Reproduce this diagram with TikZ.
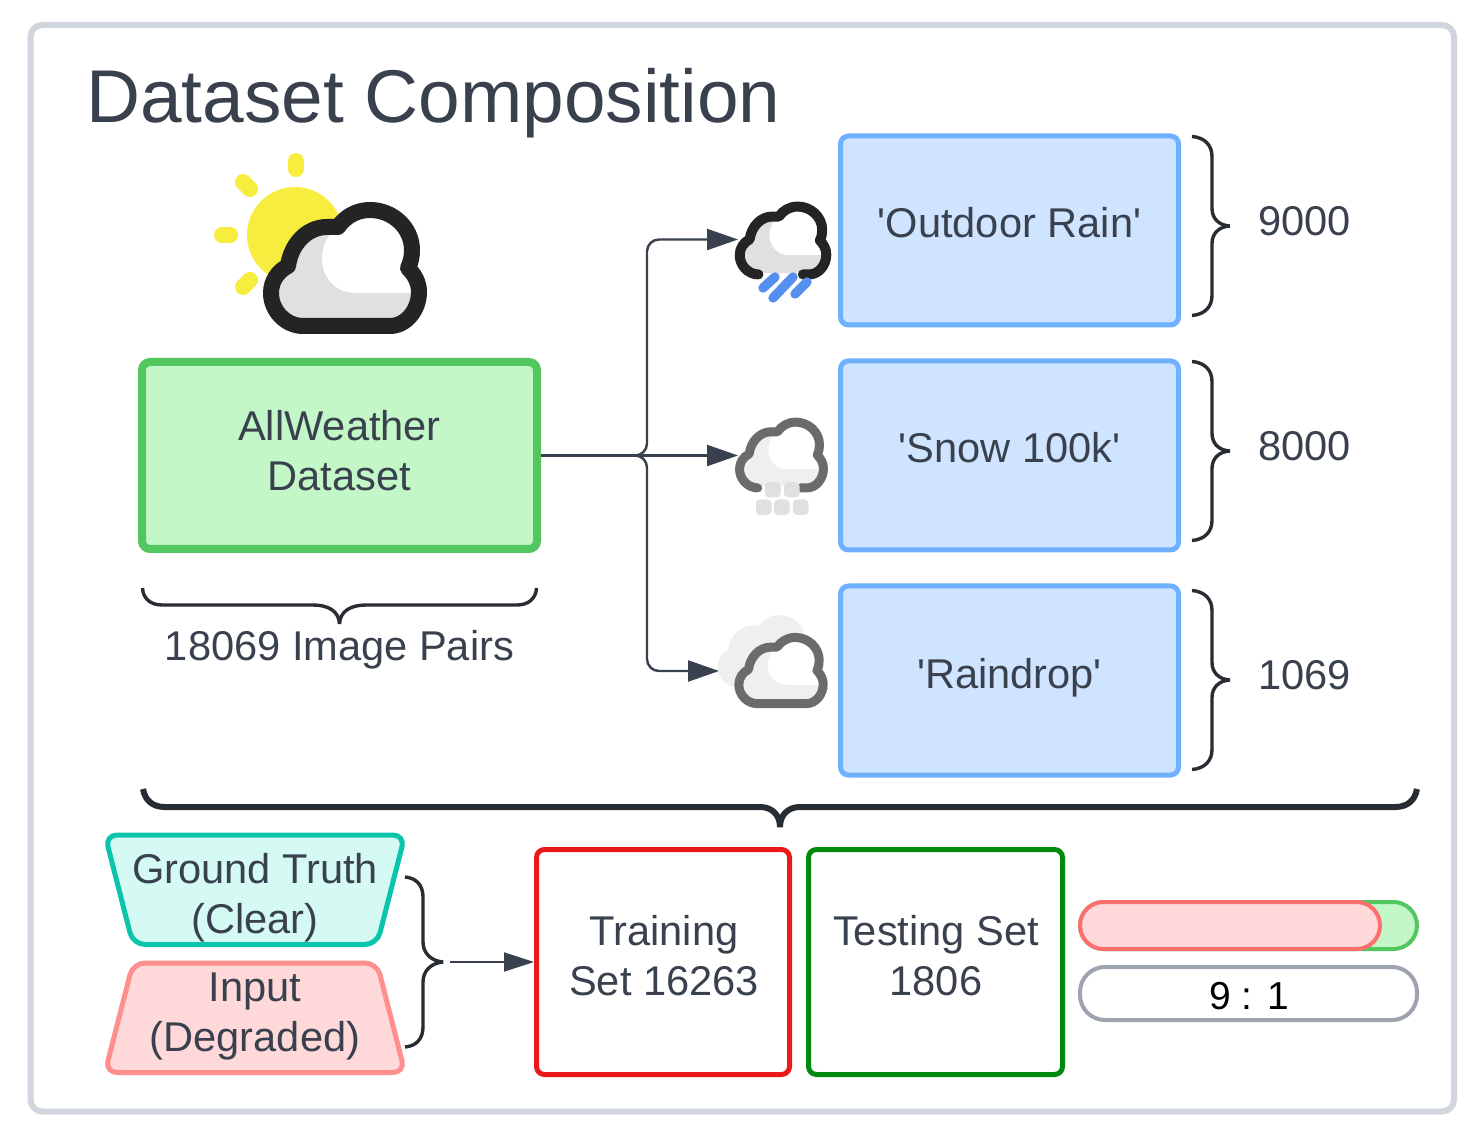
\documentclass[tikz,border=0pt]{standalone}
\usepackage{fontspec}
\setmainfont{Liberation Sans}[Ligatures=TeXOff]
\usetikzlibrary{arrows.meta}
\definecolor{ink}{HTML}{3A414E}
\definecolor{brk}{HTML}{282C33}
\definecolor{dark}{HTML}{242424}
\definecolor{midg}{HTML}{6B6B6B}
\definecolor{cgray}{HTML}{E0E0E0}
\definecolor{clight}{HTML}{EFEFEF}
\definecolor{sun}{HTML}{F7ED3E}
\definecolor{frame}{HTML}{D1D5DD}
\definecolor{gfill}{HTML}{C3F7C8}
\definecolor{gline}{HTML}{53C75F}
\definecolor{bfill}{HTML}{CFE4FF}
\definecolor{bline}{HTML}{6DB1FF}
\definecolor{tfill}{HTML}{D5F9F3}
\definecolor{tline}{HTML}{0AC5AC}
\definecolor{rfill}{HTML}{FFD9D9}
\definecolor{rline}{HTML}{FF8F8F}
\definecolor{rline2}{HTML}{FF6E6E}
\definecolor{trainc}{HTML}{EA1A1A}
\definecolor{testc}{HTML}{008A0E}
\definecolor{pillg}{HTML}{9DA3AF}
\definecolor{rainc}{HTML}{5590F0}
\def\cloudopen{(379,326) -- (390,326) .. controls (406,326) and (419,310) .. (419,292) .. controls (419,282) and (414,274) .. (408,268) .. controls (411,262) and (412,256) .. (412,250) .. controls (412,228) and (393,210) .. (370,210) .. controls (356,210) and (345,217) .. (338,227) .. controls (334,227) and (330,227) .. (327,227) .. controls (307,227) and (291,244) .. (288,266) .. controls (278,271) and (271,281) .. (271,293) .. controls (271,311) and (286,326) .. (303,326)}
\def\cloudhi{(340,226) .. controls (328,232) and (321,248) .. (322,261) .. controls (323,279) and (337,293) .. (355,293) -- (430,293) -- (430,195) -- (340,195) -- cycle}
\tikzset{
  lbl/.style={text=ink,font=\fontsize{20.8pt}{25pt}\selectfont,align=center,inner sep=0pt,anchor=center},
  conn/.style={draw=ink,line width=1.2pt,-{Triangle[length=15.5pt,width=10.5pt]},rounded corners=6pt},
  bracel/.style={draw=brk,line width=1.7pt,line join=bevel},
  blueb/.style={draw=bline,fill=bfill,line width=2.5pt,rounded corners=4pt,minimum width=169pt,minimum height=94.5pt,inner sep=0pt,outer sep=1.25pt},
  pill/.style={line width=2pt,rounded corners=11.75pt},
  ray/.style={draw=sun,line width=8pt,line cap=round},
}
\begin{document}
\begin{tikzpicture}[x=0.5pt,y=-0.5pt]
\useasboundingbox (0,0) rectangle (1479,1144);
\fill[white] (0,0) rectangle (1479,1144);
\draw[frame,line width=3pt,rounded corners=6pt] (30.5,25) rectangle (1454,1111.5);
\node[anchor=base west,text=ink,font=\fontsize{37.4pt}{40pt}\selectfont,inner sep=0pt] (title) at (86,123) {Dataset Composition};

% sun + main cloud
\fill[sun] (295,235) circle (48);
\draw[ray] (296,161) -- (296,169);
\draw[ray] (222,235) -- (230,235);
\draw[ray] (243,182) -- (250,189);
\draw[ray] (243,287) -- (250,280);
\fill[white] \cloudopen -- cycle;
\begin{scope}
\clip \cloudopen -- cycle;
\fill[cgray] (260,200) rectangle (430,335);
\fill[white] \cloudhi;
\end{scope}
\draw[dark,line width=8pt,line join=round] \cloudopen -- cycle;

% dataset
\node[draw=gline,fill=gfill,line width=4pt,rounded corners=4pt,minimum width=197.5pt,minimum height=93.5pt,inner sep=0pt,outer sep=2pt] (dataset) at (339.5,455.5) {};
\node[lbl] (datasettext) at (339.5,451) {AllWeather\\Dataset};
\draw[bracel] (142.5,588) .. controls (143,598) and (150,605) .. (162,605) -- (313,605) .. controls (328,605) and (339,611) .. (339.5,624) .. controls (340,611) and (351,605) .. (366,605) -- (517,605) .. controls (529,605) and (536,598) .. (536.5,588);
\node[lbl] (pairs) at (339.5,650) {18069 Image Pairs};

% rain icon
\begin{scope}[shift={(783,240.5)},scale=.585,shift={(-345,-268)}]
\begin{scope}
\clip \cloudopen -- cycle;
\fill[cgray] (260,200) rectangle (430,323);
\fill[white] \cloudhi;
\end{scope}
\draw[dark,line width=5pt,line cap=round,line join=round] \cloudopen;
\end{scope}
\draw[rainc,line width=4.7pt,line cap=round] (763,288) -- (775,277);
\draw[rainc,line width=4.7pt,line cap=round] (773,298) -- (793,277);
\draw[rainc,line width=4.7pt,line cap=round] (795,294) -- (807,282);

% snow icon
\begin{scope}[shift={(781.5,455)},scale=.567,shift={(-345,-268)}]
\begin{scope}
\clip \cloudopen -- cycle;
\fill[clight] (260,200) rectangle (430,323);
\fill[white] \cloudhi;
\end{scope}
\draw[midg,line width=4.5pt,line cap=round,line join=round] \cloudopen;
\end{scope}
\foreach \a/\b in {765/482,784/482,756/499.5,774/499.5,793/499.5}
  \fill[cgray,rounded corners=2pt] (\a,\b) rectangle ++(15.5,15.5);

% raindrop icon
\begin{scope}[shift={(763.5,651)},scale=.62,shift={(-345,-268)}]
\fill[clight] \cloudopen -- cycle;
\end{scope}
\begin{scope}[shift={(781,670.5)},scale=.57,shift={(-345,-268)}]
\begin{scope}
\clip \cloudopen -- cycle;
\fill[clight] (260,200) rectangle (430,335);
\fill[white] \cloudhi;
\end{scope}
\draw[midg,line width=4.5pt,line join=round] \cloudopen -- cycle;
\end{scope}

% blue boxes
\node[blueb] (rain) at (1009.5,230.5) {};
\node[blueb] (snow) at (1009.5,455.5) {};
\node[blueb] (drop) at (1009.5,680.5) {};
\node[lbl] (raintext) at (1009.5,223) {'Outdoor Rain'};
\node[lbl] (snowtext) at (1009.5,448) {'Snow 100k'};
\node[lbl] (droptext) at (1009.5,678) {'Raindrop'};

% connectors
\coordinate (rainicon) at (738,239.5);
\coordinate (snowicon) at (738,455.5);
\coordinate (dropicon) at (719,671);
\draw[conn] (dataset.east) -- (647,455.5) |- (rainicon);
\draw[conn] (dataset.east) -- (snowicon);
\draw[conn] (dataset.east) -- (647,455.5) |- (dropicon);

% right braces
\foreach \t in {136.5,361.5,590.5}{
  \draw[bracel] (1192,\t) .. controls (1205,\t+1) and (1212,\t+9) .. (1212,\t+20) -- (1212,\t+72) .. controls (1212,\t+82) and (1219,\t+89) .. (1230,\t+89.5) .. controls (1219,\t+90) and (1212,\t+97) .. (1212,\t+107) -- (1212,\t+159) .. controls (1212,\t+170) and (1205,\t+178) .. (1192,\t+179);
}
\node[lbl] (n1) at (1304.5,221) {9000};
\node[lbl] (n2) at (1304.5,446) {8000};
\node[lbl] (n3) at (1304.5,675) {1069};

% big brace
\draw[brk,line width=3pt,line join=bevel] (143,789) .. controls (145,800) and (152,807) .. (165,807) -- (760,807) .. controls (772,807) and (780,815) .. (780,827) .. controls (780,815) and (788,807) .. (800,807) -- (1395,807) .. controls (1408,807) and (1415,800) .. (1417,789);

% trapezoids
\draw[tline,fill=tfill,line width=2.5pt,rounded corners=6pt] (105,835) -- (405,835) -- (377,944.5) -- (133,944.5) -- cycle;
\node[lbl] (gt) at (255,898) {Ground Truth\\(Clear)};
\draw[rline,fill=rfill,line width=2.5pt,rounded corners=6pt] (133,963) -- (377,963) -- (405,1072.5) -- (105,1072.5) -- cycle;
\node[lbl] (inp) at (255,1017) {Input\\(Degraded)};
\draw[bracel] (405,877) .. controls (417,878) and (423,886) .. (423,897) -- (423,942) .. controls (423,953) and (431,961) .. (443,962) .. controls (431,963) and (423,971) .. (423,982) -- (423,1027) .. controls (423,1038) and (417,1046) .. (405,1047);
\coordinate (bracetip) at (450,962);

% train / test
\node[draw=trainc,fill=white,line width=2.5pt,rounded corners=4pt,minimum width=126.5pt,minimum height=112.5pt,inner sep=0pt,outer sep=1.25pt] (train) at (663,962) {};
\node[draw=testc,fill=white,line width=2.5pt,rounded corners=4pt,minimum width=127pt,minimum height=112.5pt,inner sep=0pt,outer sep=1.25pt] (test) at (935.5,962) {};
\node[lbl] (traintext) at (664,956) {Training\\Set 16263};
\node[lbl] (testtext) at (936,956) {Testing Set\\1806};
\draw[draw=ink,line width=.9pt,-{Triangle[length=15pt,width=9.5pt]}] (bracetip) -- (train.west);

% pills
\draw[gline,fill=gfill,pill] (1080,902) rectangle (1417,949);
\draw[rline2,fill=rfill,pill] (1080,902) rectangle (1380,949);
\node[draw=pillg,fill=white,line width=2pt,rounded corners=12.5pt,minimum width=168.5pt,minimum height=26.5pt,inner sep=0pt] (ratio) at (1248.5,993.5) {};
\node[text=black,font=\fontsize{19.5pt}{25pt}\selectfont,inner sep=0pt] (ratiotext) at (1249,996) {9 : 1};
\end{tikzpicture}
\end{document}
